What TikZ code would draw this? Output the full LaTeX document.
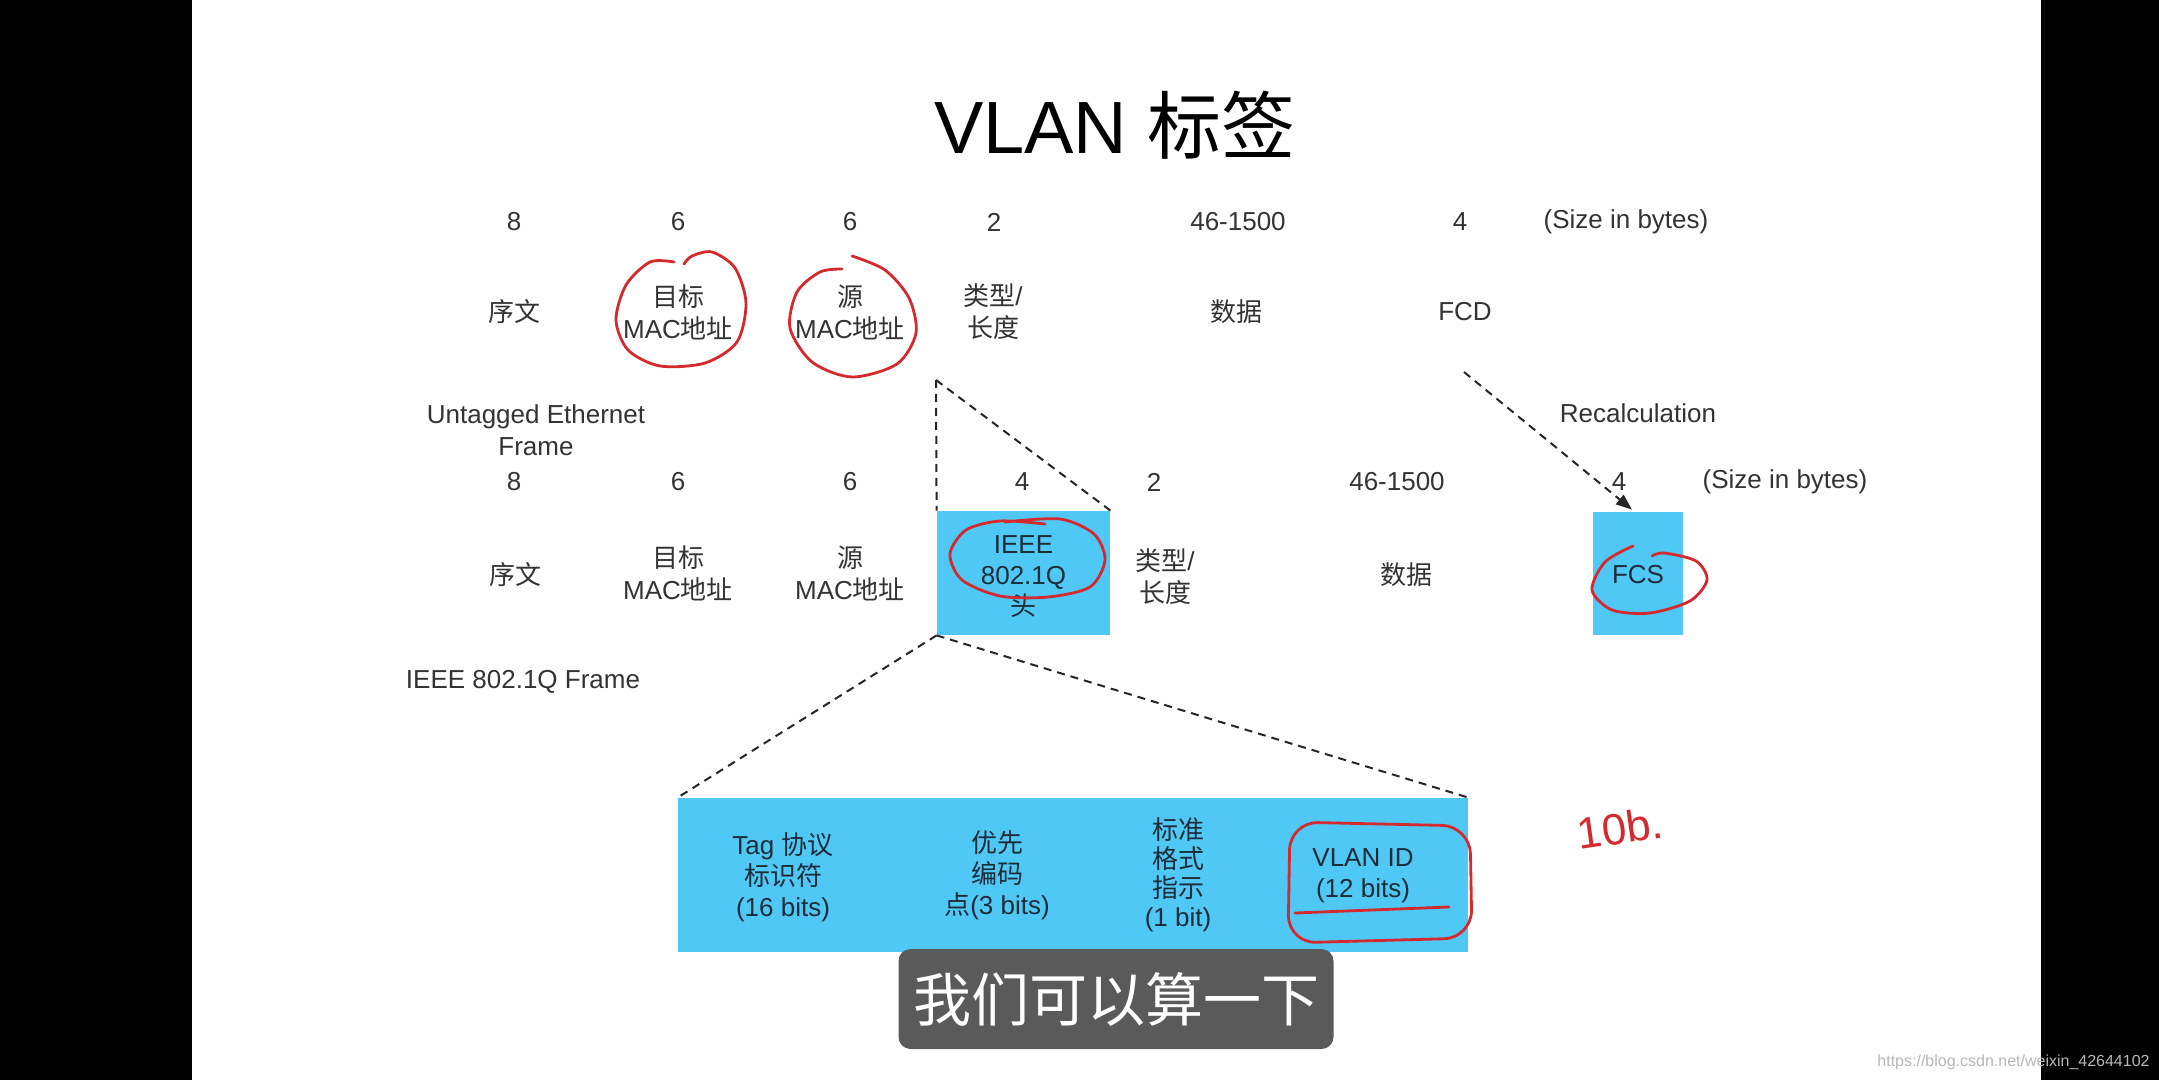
\documentclass[tikz,border=0pt]{standalone}
\usepackage{fontspec}
\setmainfont{Liberation Sans}
\newfontfamily\cjk{Noto Sans CJK SC}
\usetikzlibrary{arrows.meta,calc}
\definecolor{slideblue}{HTML}{50C8F5}
\definecolor{txt}{HTML}{333333}
\definecolor{boxink}{HTML}{1C2C38}
\definecolor{ink}{HTML}{D42A2E}
\definecolor{subbg}{HTML}{5A5A5A}
\definecolor{wm}{HTML}{B8B8B8}
\begin{document}
\begin{tikzpicture}[x=0.5pt,y=-0.5pt,
  lbl/.style={text=txt, font=\fontsize{13}{16}\selectfont, align=center, inner sep=0pt},
  num/.style={lbl},
  bluebox/.style={fill=slideblue, inner sep=0pt},
  boxtxt/.style={text=boxink, font=\fontsize{13}{15.5}\selectfont, align=center, inner sep=0pt},
  zoomline/.style={dash pattern=on 4pt off 3pt, line width=1pt, black!85},
  redink/.style={ink, line width=1.4pt, line cap=round, line join=round},
]
% background and slide area
\fill[black] (0,0) rectangle (2159,1080);
\fill[white] (192,0) rectangle (2041,1080);
\useasboundingbox (0,0) rectangle (2159,1080);

% title
\node[font=\fontsize{37}{40}\selectfont, text=black] (title) at (1115,125) {VLAN {\cjk 标签}};

% ---- untagged frame ----
\node[num] (u8)   at (514,222) {8};
\node[num] (u6a)  at (678,222) {6};
\node[num] (u6b)  at (850,222) {6};
\node[num] (u2)   at (994,222) {2};
\node[num] (u46)  at (1238,222) {46-1500};
\node[num] (u4)   at (1460,222) {4};
\node[num] (usz)  at (1626,222) {(Size in bytes)};

\node[lbl] (upre)  at (514,312) {\cjk 序文};
\node[lbl] (udst)  at (678,312) {{\cjk 目标}\\MAC{\cjk 地址}};
\node[lbl] (usrc)  at (850,312) {{\cjk 源}\\MAC{\cjk 地址}};
\node[lbl] (utype) at (993,312) {{\cjk 类型}/\\{\cjk 长度}};
\node[lbl] (udata) at (1236,312) {\cjk 数据};
\node[lbl] (ufcd)  at (1465,312) {FCD};

\node[lbl] (ucap)  at (536,430) {Untagged Ethernet\\Frame};
\node[lbl] (recalc) at (1638,413) {Recalculation};

% ---- tagged frame ----
\node[num] (t8)   at (514,482) {8};
\node[num] (t6a)  at (678,482) {6};
\node[num] (t6b)  at (850,482) {6};
\node[num] (t4a)  at (1022,482) {4};
\node[num] (t2)   at (1154,482) {2};
\node[num] (t46)  at (1397,482) {46-1500};
\node[num] (t4b)  at (1619,482) {4};
\node[num] (tsz)  at (1785,482) {(Size in bytes)};

\node[lbl] (tpre)  at (515,575) {\cjk 序文};
\node[lbl] (tdst)  at (678,573) {{\cjk 目标}\\MAC{\cjk 地址}};
\node[lbl] (tsrc)  at (850,573) {{\cjk 源}\\MAC{\cjk 地址}};
\node[bluebox, minimum width=86.5pt, minimum height=62pt] (ieee) at (1023.5,573) {};
\node[boxtxt] (ieeetxt) at (1023.5,577) {IEEE\\802.1Q\\{\cjk 头}};
\node[lbl] (ttype) at (1165,577) {{\cjk 类型}/\\{\cjk 长度}};
\node[lbl] (tdata) at (1406,575) {\cjk 数据};
\node[bluebox, minimum width=45pt, minimum height=61.5pt] (fcs) at (1638,573.5) {};
\node[boxtxt] (fcstxt) at (1638,575) {FCS};

\node[lbl] (tcap) at (523,682) {IEEE 802.1Q Frame};

% ---- tag detail bar ----
\node[bluebox, minimum width=395pt, minimum height=77pt] (tagbar) at (1073,875) {};
\node[boxtxt] (tpid) at (783,877) {Tag {\cjk 协议}\\{\cjk 标识符}\\(16 bits)};
\node[boxtxt] (pcp)  at (997,875) {{\cjk 优先}\\{\cjk 编码}\\{\cjk 点}(3 bits)};
\node[boxtxt, font=\fontsize{13}{14.5}\selectfont] (cfi)  at (1178,875) {{\cjk 标准}\\{\cjk 格式}\\{\cjk 指示}\\(1 bit)};
\node[boxtxt] (vid)  at (1363,876) {VLAN ID\\(12 bits)};

% ---- dashed connectors ----
\coordinate (apex) at (936,380);
\draw[zoomline] (apex) -- (ieee.north west);
\draw[zoomline] (apex) -- (ieee.north east);
\draw[zoomline] (ieee.south west) -- (tagbar.north west);
\draw[zoomline] (ieee.south west) -- (tagbar.north east);
\coordinate (recalcstart) at (1464,372);
\draw[zoomline,-{Triangle[length=8pt,width=6pt]}] (recalcstart) -- ($(fcs.north)+(-6,-2)$);

% ---- red hand annotations ----
\draw[redink] plot[smooth] coordinates {(674,262) (650,262) (626,285) (616,320) (628,350) (660,366) (705,363) (737,342) (746,303) (735,268) (712,252) (692,256) (684,264)};
\draw[redink] plot[smooth] coordinates {(852,256) (885,270) (909,298) (916,333) (897,364) (852,377) (812,362) (790,328) (797,292) (820,272) (842,269)};
\draw[redink] plot[smooth] coordinates {(1005,522) (1060,519) (1094,534) (1105,560) (1090,587) (1048,597) (1000,596) (962,580) (950,554) (966,530) (1000,521) (1045,524)};
\draw[redink] plot[smooth] coordinates {(1633,546) (1605,562) (1592,590) (1612,610) (1650,613) (1690,601) (1707,580) (1696,561) (1664,553) (1652,556)};
\draw[redink, rounded corners=14pt] (1290,822) -- (1470,826) -- (1472,938) -- (1288,943) -- cycle;
\draw[redink] (1295,913) -- (1449,907);
\node[text=ink, rotate=8, font=\fontsize{22}{22}\selectfont, inner sep=0pt] (note) at (1620,828) {10b.};

% ---- subtitle and watermark ----
\node[fill=subbg, rounded corners=6pt, minimum width=217.5pt, minimum height=50pt, inner sep=0pt, text=white, font=\cjk\fontsize{29}{30}\selectfont] (subtitle) at (1116,999) {我们可以算一下};
\node[text=wm, font=\fontsize{8}{8}\selectfont, anchor=east, inner sep=0pt] (wmark) at (2150,1062) {https://blog.csdn.net/weixin\_42644102};
\end{tikzpicture}
\end{document}
